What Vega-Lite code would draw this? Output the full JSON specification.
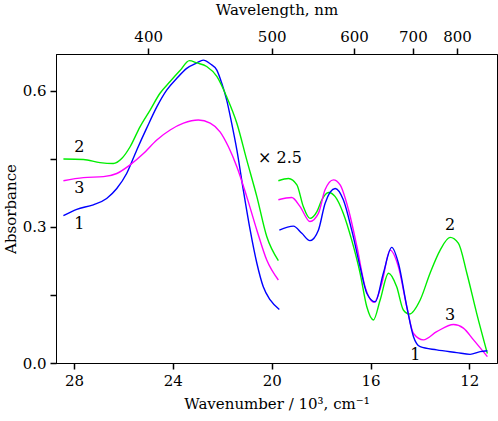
{
  "$schema": "https://vega.github.io/schema/vega-lite/v6.json",
  "autosize": {"type": "none"},
  "padding": {"left": 56, "top": 54, "right": 1, "bottom": 58},
  "width": 441,
  "height": 309,
  "background": "white",
  "config": {
    "view": {"stroke": "black", "strokeWidth": 1},
    "font": "DejaVu Serif",
    "axis": {
      "grid": false, "domainColor": "black", "tickColor": "black", "labelColor": "black",
      "titleColor": "black", "labelFont": "DejaVu Serif", "titleFont": "DejaVu Serif",
      "labelFontSize": 15, "titleFontSize": 15, "titleFontWeight": "normal", "tickSize": 6, "tickWidth": 1.5
    }
  },
  "datasets": {
    "curves": [
      {"s": "1", "seg": "a", "wn": 28.43, "abs": 0.325},
      {"s": "1", "seg": "a", "wn": 27.89, "abs": 0.339},
      {"s": "1", "seg": "a", "wn": 27.22, "abs": 0.349},
      {"s": "1", "seg": "a", "wn": 26.68, "abs": 0.363},
      {"s": "1", "seg": "a", "wn": 26.27, "abs": 0.385},
      {"s": "1", "seg": "a", "wn": 25.87, "abs": 0.418},
      {"s": "1", "seg": "a", "wn": 25.46, "abs": 0.470},
      {"s": "1", "seg": "a", "wn": 25.06, "abs": 0.518},
      {"s": "1", "seg": "a", "wn": 24.65, "abs": 0.565},
      {"s": "1", "seg": "a", "wn": 24.25, "abs": 0.602},
      {"s": "1", "seg": "a", "wn": 23.84, "abs": 0.628},
      {"s": "1", "seg": "a", "wn": 23.44, "abs": 0.650},
      {"s": "1", "seg": "a", "wn": 23.03, "abs": 0.662},
      {"s": "1", "seg": "a", "wn": 22.77, "abs": 0.668},
      {"s": "1", "seg": "a", "wn": 22.49, "abs": 0.660},
      {"s": "1", "seg": "a", "wn": 22.22, "abs": 0.646},
      {"s": "1", "seg": "a", "wn": 22.02, "abs": 0.617},
      {"s": "1", "seg": "a", "wn": 21.82, "abs": 0.580},
      {"s": "1", "seg": "a", "wn": 21.62, "abs": 0.529},
      {"s": "1", "seg": "a", "wn": 21.41, "abs": 0.470},
      {"s": "1", "seg": "a", "wn": 21.15, "abs": 0.382},
      {"s": "1", "seg": "a", "wn": 20.87, "abs": 0.293},
      {"s": "1", "seg": "a", "wn": 20.60, "abs": 0.220},
      {"s": "1", "seg": "a", "wn": 20.34, "abs": 0.168},
      {"s": "1", "seg": "a", "wn": 20.06, "abs": 0.139},
      {"s": "1", "seg": "a", "wn": 19.69, "abs": 0.118},
      {"s": "2", "seg": "a", "wn": 28.43, "abs": 0.450},
      {"s": "2", "seg": "a", "wn": 27.62, "abs": 0.449},
      {"s": "2", "seg": "a", "wn": 26.95, "abs": 0.442},
      {"s": "2", "seg": "a", "wn": 26.41, "abs": 0.440},
      {"s": "2", "seg": "a", "wn": 26.07, "abs": 0.451},
      {"s": "2", "seg": "a", "wn": 25.73, "abs": 0.477},
      {"s": "2", "seg": "a", "wn": 25.33, "abs": 0.521},
      {"s": "2", "seg": "a", "wn": 24.92, "abs": 0.558},
      {"s": "2", "seg": "a", "wn": 24.52, "abs": 0.595},
      {"s": "2", "seg": "a", "wn": 24.11, "abs": 0.621},
      {"s": "2", "seg": "a", "wn": 23.71, "abs": 0.645},
      {"s": "2", "seg": "a", "wn": 23.33, "abs": 0.667},
      {"s": "2", "seg": "a", "wn": 23.03, "abs": 0.662},
      {"s": "2", "seg": "a", "wn": 22.63, "abs": 0.654},
      {"s": "2", "seg": "a", "wn": 22.22, "abs": 0.632},
      {"s": "2", "seg": "a", "wn": 21.82, "abs": 0.587},
      {"s": "2", "seg": "a", "wn": 21.41, "abs": 0.529},
      {"s": "2", "seg": "a", "wn": 21.01, "abs": 0.448},
      {"s": "2", "seg": "a", "wn": 20.60, "abs": 0.367},
      {"s": "2", "seg": "a", "wn": 20.20, "abs": 0.279},
      {"s": "2", "seg": "a", "wn": 19.73, "abs": 0.226},
      {"s": "3", "seg": "a", "wn": 28.43, "abs": 0.402},
      {"s": "3", "seg": "a", "wn": 27.62, "abs": 0.409},
      {"s": "3", "seg": "a", "wn": 26.81, "abs": 0.411},
      {"s": "3", "seg": "a", "wn": 26.27, "abs": 0.418},
      {"s": "3", "seg": "a", "wn": 25.73, "abs": 0.437},
      {"s": "3", "seg": "a", "wn": 25.19, "abs": 0.462},
      {"s": "3", "seg": "a", "wn": 24.65, "abs": 0.492},
      {"s": "3", "seg": "a", "wn": 24.11, "abs": 0.514},
      {"s": "3", "seg": "a", "wn": 23.57, "abs": 0.529},
      {"s": "3", "seg": "a", "wn": 22.97, "abs": 0.536},
      {"s": "3", "seg": "a", "wn": 22.49, "abs": 0.529},
      {"s": "3", "seg": "a", "wn": 22.09, "abs": 0.510},
      {"s": "3", "seg": "a", "wn": 21.75, "abs": 0.477},
      {"s": "3", "seg": "a", "wn": 21.41, "abs": 0.433},
      {"s": "3", "seg": "a", "wn": 21.01, "abs": 0.367},
      {"s": "3", "seg": "a", "wn": 20.60, "abs": 0.293},
      {"s": "3", "seg": "a", "wn": 20.20, "abs": 0.227},
      {"s": "3", "seg": "a", "wn": 19.73, "abs": 0.183},
      {"s": "2", "seg": "b", "wn": 19.73, "abs": 0.402},
      {"s": "2", "seg": "b", "wn": 19.32, "abs": 0.407},
      {"s": "2", "seg": "b", "wn": 18.98, "abs": 0.393},
      {"s": "2", "seg": "b", "wn": 18.72, "abs": 0.345},
      {"s": "2", "seg": "b", "wn": 18.45, "abs": 0.319},
      {"s": "2", "seg": "b", "wn": 18.17, "abs": 0.334},
      {"s": "2", "seg": "b", "wn": 17.97, "abs": 0.360},
      {"s": "2", "seg": "b", "wn": 17.70, "abs": 0.376},
      {"s": "2", "seg": "b", "wn": 17.43, "abs": 0.367},
      {"s": "2", "seg": "b", "wn": 17.10, "abs": 0.330},
      {"s": "2", "seg": "b", "wn": 16.76, "abs": 0.271},
      {"s": "2", "seg": "b", "wn": 16.42, "abs": 0.198},
      {"s": "2", "seg": "b", "wn": 16.15, "abs": 0.124},
      {"s": "2", "seg": "b", "wn": 15.88, "abs": 0.095},
      {"s": "2", "seg": "b", "wn": 15.61, "abs": 0.139},
      {"s": "2", "seg": "b", "wn": 15.27, "abs": 0.198},
      {"s": "2", "seg": "b", "wn": 14.94, "abs": 0.168},
      {"s": "2", "seg": "b", "wn": 14.67, "abs": 0.117},
      {"s": "2", "seg": "b", "wn": 14.42, "abs": 0.108},
      {"s": "2", "seg": "b", "wn": 13.99, "abs": 0.139},
      {"s": "2", "seg": "b", "wn": 13.59, "abs": 0.198},
      {"s": "2", "seg": "b", "wn": 13.18, "abs": 0.249},
      {"s": "2", "seg": "b", "wn": 12.78, "abs": 0.277},
      {"s": "2", "seg": "b", "wn": 12.44, "abs": 0.264},
      {"s": "2", "seg": "b", "wn": 12.10, "abs": 0.198},
      {"s": "2", "seg": "b", "wn": 11.70, "abs": 0.109},
      {"s": "2", "seg": "b", "wn": 11.27, "abs": 0.021},
      {"s": "3", "seg": "b", "wn": 19.73, "abs": 0.360},
      {"s": "3", "seg": "b", "wn": 19.19, "abs": 0.365},
      {"s": "3", "seg": "b", "wn": 18.85, "abs": 0.345},
      {"s": "3", "seg": "b", "wn": 18.45, "abs": 0.312},
      {"s": "3", "seg": "b", "wn": 18.11, "abs": 0.330},
      {"s": "3", "seg": "b", "wn": 17.84, "abs": 0.382},
      {"s": "3", "seg": "b", "wn": 17.50, "abs": 0.404},
      {"s": "3", "seg": "b", "wn": 17.23, "abs": 0.393},
      {"s": "3", "seg": "b", "wn": 16.89, "abs": 0.338},
      {"s": "3", "seg": "b", "wn": 16.55, "abs": 0.257},
      {"s": "3", "seg": "b", "wn": 16.22, "abs": 0.168},
      {"s": "3", "seg": "b", "wn": 15.85, "abs": 0.134},
      {"s": "3", "seg": "b", "wn": 15.54, "abs": 0.176},
      {"s": "3", "seg": "b", "wn": 15.21, "abs": 0.249},
      {"s": "3", "seg": "b", "wn": 14.87, "abs": 0.212},
      {"s": "3", "seg": "b", "wn": 14.53, "abs": 0.124},
      {"s": "3", "seg": "b", "wn": 14.26, "abs": 0.065},
      {"s": "3", "seg": "b", "wn": 13.86, "abs": 0.051},
      {"s": "3", "seg": "b", "wn": 13.32, "abs": 0.069},
      {"s": "3", "seg": "b", "wn": 12.64, "abs": 0.085},
      {"s": "3", "seg": "b", "wn": 12.24, "abs": 0.077},
      {"s": "3", "seg": "b", "wn": 11.83, "abs": 0.051},
      {"s": "3", "seg": "b", "wn": 11.27, "abs": 0.014},
      {"s": "1", "seg": "b", "wn": 19.69, "abs": 0.293},
      {"s": "1", "seg": "b", "wn": 19.12, "abs": 0.302},
      {"s": "1", "seg": "b", "wn": 18.78, "abs": 0.286},
      {"s": "1", "seg": "b", "wn": 18.45, "abs": 0.270},
      {"s": "1", "seg": "b", "wn": 18.11, "abs": 0.293},
      {"s": "1", "seg": "b", "wn": 17.84, "abs": 0.352},
      {"s": "1", "seg": "b", "wn": 17.43, "abs": 0.385},
      {"s": "1", "seg": "b", "wn": 17.10, "abs": 0.360},
      {"s": "1", "seg": "b", "wn": 16.76, "abs": 0.293},
      {"s": "1", "seg": "b", "wn": 16.42, "abs": 0.212},
      {"s": "1", "seg": "b", "wn": 16.15, "abs": 0.154},
      {"s": "1", "seg": "b", "wn": 15.81, "abs": 0.135},
      {"s": "1", "seg": "b", "wn": 15.48, "abs": 0.198},
      {"s": "1", "seg": "b", "wn": 15.14, "abs": 0.255},
      {"s": "1", "seg": "b", "wn": 14.87, "abs": 0.220},
      {"s": "1", "seg": "b", "wn": 14.53, "abs": 0.124},
      {"s": "1", "seg": "b", "wn": 14.26, "abs": 0.058},
      {"s": "1", "seg": "b", "wn": 13.99, "abs": 0.036},
      {"s": "1", "seg": "b", "wn": 13.32, "abs": 0.029},
      {"s": "1", "seg": "b", "wn": 12.51, "abs": 0.023},
      {"s": "1", "seg": "b", "wn": 11.97, "abs": 0.019},
      {"s": "1", "seg": "b", "wn": 11.56, "abs": 0.025},
      {"s": "1", "seg": "b", "wn": 11.27, "abs": 0.027}
    ],
    "labels": [
      {"t": "2", "wn": 27.79, "abs": 0.476},
      {"t": "3", "wn": 27.79, "abs": 0.385},
      {"t": "1", "wn": 27.79, "abs": 0.307},
      {"t": "× 2.5", "wn": 19.66, "abs": 0.452},
      {"t": "2", "wn": 12.78, "abs": 0.304},
      {"t": "3", "wn": 12.78, "abs": 0.106},
      {"t": "1", "wn": 14.19, "abs": 0.018}
    ]
  },
  "layer": [
    {
      "data": {"name": "curves"},
      "mark": {"type": "line", "strokeWidth": 1.4, "interpolate": "monotone"},
      "encoding": {
        "x": {
          "field": "wn", "type": "quantitative",
          "scale": {"domain": [28.73, 10.88], "nice": false, "zero": false},
          "axis": {"orient": "bottom", "values": [28, 24, 20, 16, 12], "format": "d", "title": "Wavenumber / 10³, cm⁻¹", "titlePadding": 8, "labelPadding": 4}
        },
        "y": {
          "field": "abs", "type": "quantitative",
          "scale": {"domain": [0, 0.6816], "nice": false},
          "axis": {"values": [0, 0.15, 0.3, 0.45, 0.6], "labelExpr": "datum.value == 0 || datum.value == 0.3 || datum.value == 0.6 ? format(datum.value, '.1f') : ''", "title": "Absorbance", "titlePadding": 4, "labelPadding": 4}
        },
        "color": {
          "field": "s", "type": "nominal",
          "scale": {"domain": ["1", "2", "3"], "range": ["#0000ff", "#00ee00", "#ff00ff"]},
          "legend": null
        },
        "detail": {"field": "seg"}
      }
    },
    {
      "data": {"name": "labels"},
      "mark": {"type": "text", "fontSize": 16, "font": "DejaVu Serif", "color": "black", "align": "center", "baseline": "middle"},
      "encoding": {
        "x": {"field": "wn", "type": "quantitative", "scale": {"domain": [28.73, 10.88], "nice": false, "zero": false}, "axis": null},
        "y": {"field": "abs", "type": "quantitative", "scale": {"domain": [0, 0.6816], "nice": false}},
        "text": {"field": "t"}
      }
    },
    {
      "data": {"values": [{"wn": 25}]},
      "mark": {"type": "rule", "opacity": 0},
      "encoding": {
        "x": {
          "field": "wn", "type": "quantitative",
          "scale": {"domain": [28.73, 10.88], "nice": false, "zero": false},
          "axis": {"orient": "top", "values": [25, 20, 16.6667, 14.2857, 12.5], "labelExpr": "format(10000 / datum.value, '.0f')", "title": "Wavelength, nm", "titlePadding": 12, "labelPadding": 4}
        }
      }
    }
  ],
  "resolve": {"scale": {"x": "independent"}, "axis": {"x": "independent"}}
}
